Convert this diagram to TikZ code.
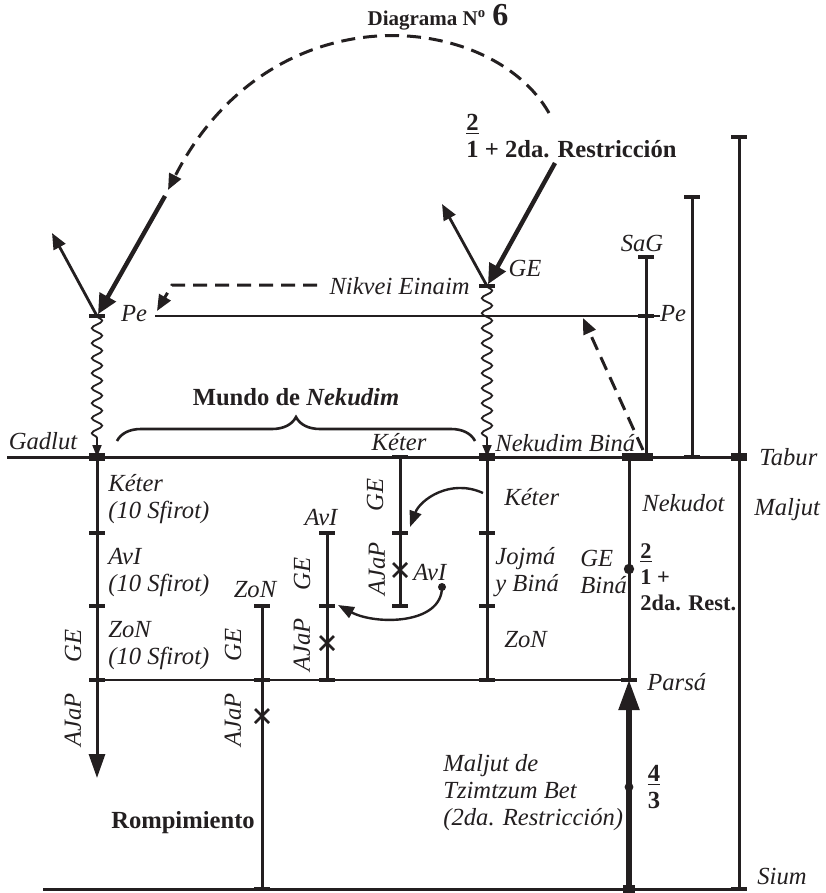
\documentclass[tikz,border=0pt]{standalone}
\usepackage{fontspec}
\setmainfont{Liberation Serif}
\usetikzlibrary{arrows.meta,decorations.pathmorphing,decorations.pathreplacing}
\definecolor{ink}{HTML}{231F20}
\tikzset{
  bar/.style={draw=ink,line width=1.5pt},
  hair/.style={draw=ink,line width=0.6pt},
  tk/.style={draw=ink,line width=2.4pt},
  wave/.style={draw=ink,line width=0.9pt,decorate,
    decoration={snake,amplitude=2.6pt,segment length=7.5pt,post length=7pt},
    -{Triangle[length=6pt,width=4.5pt]}},
  thrust/.style={draw=ink,line width=2.2pt,-{Triangle[length=10pt,width=9pt]}},
  kick/.style={draw=ink,line width=1.4pt,-{Triangle[length=8pt,width=6.5pt]}},
  dashy/.style={draw=ink,line width=1.5pt,dash pattern=on 7pt off 4pt,
    -{Triangle[length=8pt,width=6.5pt]}},
  curv/.style={draw=ink,line width=1.2pt,-{Triangle[length=8pt,width=6pt]}},
  lab/.style={font=\fontsize{12.3}{13.5}\selectfont\itshape,text=ink,inner sep=1pt},
  blab/.style={font=\bfseries\fontsize{12.3}{13.5}\selectfont,text=ink,inner sep=1pt},
}
\newcommand{\tickat}[1]{\draw[tk] (#1) ++(-8,0) -- ++(16,0);}
\newcommand{\crossat}[1]{\draw[ink,line width=1.3pt] (#1) ++(-7,-7) -- ++(14,14) ++(0,-14) -- ++(-14,14);}
\newcommand{\blockat}[1]{\fill[ink] (#1) ++(-8,-4) rectangle ++(16,8);}

\begin{document}
\begin{tikzpicture}[x=0.5pt,y=-0.5pt]
\useasboundingbox (0,0) rectangle (825,893);

% points
\coordinate (tabL) at (7,457);   \coordinate (tabR) at (747,457);
\coordinate (siumL) at (43,889); \coordinate (siumR) at (747,889);
\coordinate (peL) at (155,316);  \coordinate (peR) at (660,316);
\coordinate (gPe) at (97,316);   \coordinate (gTab) at (97,457);
\coordinate (gR1) at (97,533);   \coordinate (gR2) at (97,606);
\coordinate (gPar) at (97,680);  \coordinate (gEnd) at (97,778);
\coordinate (zTop) at (262,606); \coordinate (zPar) at (262,680);
\coordinate (zSium) at (262,889);
\coordinate (aTop) at (327,533); \coordinate (aMid) at (327,606);
\coordinate (aPar) at (327,680);
\coordinate (kTab) at (400,457); \coordinate (kMid) at (400,533);
\coordinate (kEnd) at (400,606);
\coordinate (nGE) at (487,286);  \coordinate (nTab) at (487,457);
\coordinate (nR1) at (487,533);  \coordinate (nR2) at (487,606);
\coordinate (nPar) at (487,680);
\coordinate (bTab) at (629,457); \coordinate (bDot) at (629,569);
\coordinate (bPar) at (629,680); \coordinate (bDot2) at (629,787);
\coordinate (bSium) at (629,889);
\coordinate (sTop) at (646,257); \coordinate (sPe) at (646,316);
\coordinate (sTab) at (646,457);
\coordinate (mTop) at (692,197); \coordinate (mTab) at (692,457);
\coordinate (hTop) at (739,137); \coordinate (hTab) at (739,457);
\coordinate (hSium) at (739,889);
\coordinate (xK) at (400,570); \coordinate (xA) at (327,643); \coordinate (xZ) at (262,716);
\coordinate (lOut) at (52,233);  \coordinate (rOut) at (442,204);
\coordinate (lIn) at (165,196);  \coordinate (rIn) at (555,163);
\coordinate (arcS) at (549,113); \coordinate (arcE) at (168,190);
\coordinate (nikS) at (317,285); \coordinate (nikC) at (172,285);
\coordinate (nikE) at (157,311);
\coordinate (binS) at (643,450); \coordinate (binE) at (583,318);
\coordinate (c1S) at (483,493);  \coordinate (c1E) at (410,527);
\coordinate (c2S) at (442,587);  \coordinate (c2E) at (338,605);
\coordinate (brL) at (117,441);  \coordinate (brR) at (475,441);

% levels
\draw[bar] (tabL) -- (tabR);
\draw[bar] (siumL) -- (siumR);
\draw[hair] (peL) -- (peR);
\draw[hair] (gPar) -- (bPar);

% Gadlut
\draw[wave] (gPe) -- (gTab);
\draw[bar,-{Triangle[length=12pt,width=8pt]}] (gTab) -- (gEnd);
\tickat{gPe} \tickat{gR1} \tickat{gR2} \tickat{gPar}
\blockat{gTab}

% ZoN, AvI, Keter
\draw[bar] (zTop) -- (zSium);
\tickat{zTop} \tickat{zPar} \tickat{zSium} \crossat{xZ}
\draw[bar] (aTop) -- (aPar);
\tickat{aTop} \tickat{aMid} \tickat{aPar} \crossat{xA}
\draw[bar] (kTab) -- (kEnd);
\tickat{kTab} \tickat{kMid} \tickat{kEnd} \crossat{xK}

% Nekudim
\draw[wave] (nGE) -- (nTab);
\draw[bar] (nTab) -- (nPar);
\tickat{nGE} \tickat{nR1} \tickat{nR2} \tickat{nPar}
\blockat{nTab}

% Bina and the columns on the right
\draw[bar] (bTab) -- (bPar);
\draw[draw=ink,line width=2.6pt,-{Triangle[length=15pt,width=10pt]}] (bSium) -- (bPar);
\tickat{bPar}
\fill[ink] (bDot) circle (2.6pt);
\fill[ink] (bDot2) circle (2.2pt);
\fill[ink] (bSium) ++(-6,-4) rectangle ++(12,8);
\fill[ink] (622,453) rectangle (653,461);
\draw[bar] (sTop) -- (sTab);
\tickat{sTop} \tickat{sPe}
\draw[bar] (mTop) -- (mTab);
\tickat{mTop} \tickat{mTab}
\draw[bar] (hTop) -- (hSium);
\tickat{hTop} \tickat{hSium}
\blockat{hTab}

% arrows
\draw[dashy] (arcS) .. controls (490,10) and (270,-10) .. (arcE);
\draw[thrust,shorten >=1pt] (lIn) -- (gPe);
\draw[thrust,shorten >=1pt] (rIn) -- (nGE);
\draw[kick] (gPe) -- (lOut);
\draw[kick] (nGE) -- (rOut);
\draw[dashy] (nikS) -- (nikC) -- (nikE);
\draw[dashy] (binS) -- (binE);
\draw[curv] (c1S) .. controls (450,478) and (420,500) .. (c1E);
\draw[curv] (c2S) .. controls (442,625) and (375,625) .. (c2E);
\fill[ink] (c2S) circle (2pt);
\draw[ink,line width=1.3pt,decorate,decoration={brace,amplitude=12pt}] (brL) -- (brR);

% labels
\node[blab] (title) at (438,17) {{\fontsize{10.5}{12}\selectfont Diagrama N\textsuperscript{o}} {\fontsize{16}{18}\selectfont 6}};
\node[blab,align=left,anchor=west] (restr) at (464,136) {\underline{2}\\1 + 2da. Restricción};
\node[lab] (geTop) at (525,268) {GE};
\node[lab,anchor=east] (nikvei) at (472,286) {Nikvei Einaim};
\node[lab] (peLeft) at (134,314) {Pe};
\node[lab] (peRight) at (673,314) {Pe};
\node[lab] (sag) at (642,243) {SaG};
\node[blab] (mundo) at (296,397) {Mundo de \textit{Nekudim}};
\node[lab] (gadlut) at (43,441) {Gadlut};
\node[lab] (keterTop) at (399,442) {Kéter};
\node[lab,anchor=west] (nekudim) at (493,443) {Nekudim};
\node[lab] (binaTop) at (612,443) {Biná};
\node[lab,anchor=west] (tabur) at (757,457) {Tabur};
\node[lab,anchor=west] (maljut) at (752,510) {Maljut};
\node[lab,anchor=west] (nekudot) at (640,503) {Nekudot};
\node[lab,anchor=west,align=left] (gK) at (106,499) {Kéter\\(10 Sfirot)};
\node[lab,anchor=west,align=left] (gA) at (106,572) {AvI\\(10 Sfirot)};
\node[lab,anchor=west,align=left] (gZ) at (106,646) {ZoN\\(10 Sfirot)};
\node[lab] (zonTop) at (255,590) {ZoN};
\node[lab] (aviTop) at (321,517) {AvI};
\node[lab,anchor=west] (aviX) at (411,572) {AvI};
\node[lab,anchor=west] (nK) at (502,497) {Kéter};
\node[lab,anchor=west,align=left] (nJ) at (493,572) {Jojmá\\y Biná};
\node[lab,anchor=west,align=left] (nGEb) at (578,572) {GE\\Biná};
\node[lab,anchor=west] (nZ) at (502,640) {ZoN};
\node[blab,anchor=west,align=left,font=\bfseries\fontsize{11.2}{13}\selectfont] (rest) at (638,577) {\underline{2}\\1 +\\2da. Rest.};
\node[lab,anchor=west] (parsa) at (645,682) {Parsá};
\node[lab,anchor=west,align=left] (maljutTB) at (441,793) {Maljut de\\Tzimtzum Bet\\(2da. Restricción)};
\node[blab,align=center] (frac43) at (654,787) {\underline{4}\\3};
\node[blab] (romp) at (183,823) {Rompimiento};
\node[lab,anchor=west] (sium) at (755,876) {Sium};
% side labels
\node[lab,rotate=90] (geG) at (73,646) {GE};
\node[lab,rotate=90] (ajG) at (73,720) {AJaP};
\node[lab,rotate=90] (geZ) at (233,645) {GE};
\node[lab,rotate=90] (ajZ) at (233,720) {AJaP};
\node[lab,rotate=90] (geA) at (302,574) {GE};
\node[lab,rotate=90] (ajA) at (302,645) {AJaP};
\node[lab,rotate=90] (geK) at (375,495) {GE};
\node[lab,rotate=90] (ajK) at (377,569) {AJaP};
\end{tikzpicture}
\end{document}
